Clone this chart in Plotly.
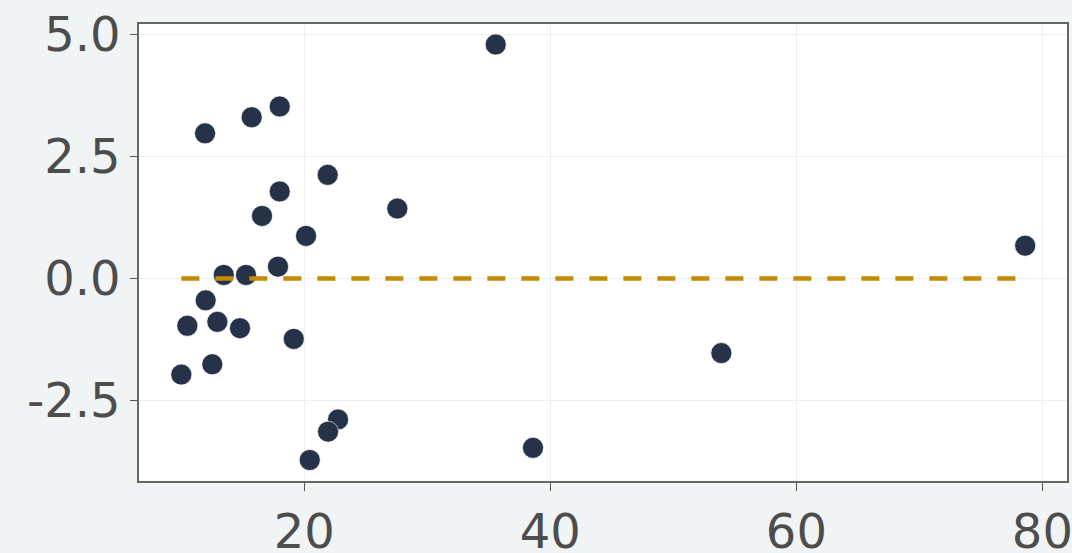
import plotly.graph_objects as go

# Fitted values and residuals
fitted = [11.93, 15.72, 18.0, 21.9, 18.0, 16.56, 20.14, 27.56, 17.86, 13.45,
          15.26, 11.98, 10.49, 12.93, 14.77, 19.14, 10.0, 12.52, 22.74, 21.93,
          20.44, 35.56, 38.59, 53.9, 78.6]
residuals = [2.97, 3.3, 3.52, 2.12, 1.78, 1.28, 0.87, 1.43, 0.24, 0.07,
             0.07, -0.45, -0.97, -0.89, -1.02, -1.24, -1.97, -1.76, -2.89, -3.14,
             -3.72, 4.79, -3.47, -1.53, 0.67]

x_ticks = [20, 40, 60, 80]
y_ticks = [-2.5, 0.0, 2.5, 5.0]
y_tick_text = ["-2.5", "0.0", "2.5", "5.0"]

fig = go.Figure()

fig.add_trace(go.Scatter(
    x=fitted, y=residuals, mode="markers",
    marker=dict(size=21, color="#253248", line=dict(width=1, color="rgba(255,255,255,0.6)")),
    showlegend=False,
))

# zero reference line across the fitted range
fig.add_trace(go.Scatter(
    x=[min(fitted), max(fitted)], y=[0, 0], mode="lines",
    line=dict(color="#c48a00", width=4.5, dash="18px,16px"),
    showlegend=False,
))

tick_font = dict(family="DejaVu Sans", size=48, color="#4d4d4d")

fig.update_layout(
    width=1072, height=553,
    margin=dict(l=139, r=5, t=24, b=72),
    paper_bgcolor="#f0f4f5",
    plot_bgcolor="#ffffff",
    xaxis=dict(
        range=[6.56, 82.0], tickvals=x_ticks, ticks="outside", ticklen=8,
        tickcolor="#555555", tickwidth=1, showgrid=True, gridcolor="#eeeeee",
        gridwidth=1, zeroline=False, showline=True, linecolor="#666666",
        linewidth=1.5, mirror=True, tickfont=tick_font, automargin=False,
        ticklabeloverflow="allow",
    ),
    yaxis=dict(
        range=[-4.15, 5.21], tickvals=y_ticks, ticktext=y_tick_text,
        ticks="outside", ticklen=7, tickcolor="#555555", tickwidth=1,
        showgrid=True, gridcolor="#eeeeee", gridwidth=1, zeroline=False,
        showline=True, linecolor="#666666", linewidth=1.5, mirror=True,
        tickfont=tick_font, automargin=False, ticklabeloverflow="allow",
    ),
)

fig.write_html("out.html")
